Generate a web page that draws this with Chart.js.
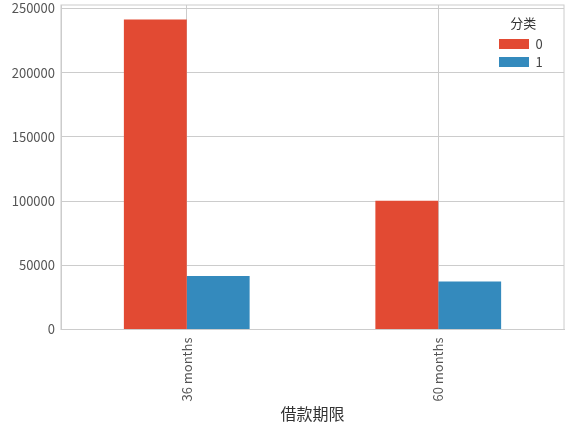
<!DOCTYPE html>
<html>
<head>
<meta charset="utf-8">
<script src="https://cdn.jsdelivr.net/npm/chart.js@4/dist/chart.umd.min.js"></script>
<style>
  html, body { margin: 0; padding: 0; background: #fff; }
  #wrap { width: 574px; height: 427px; }
</style>
</head>
<body>
<div id="wrap"><canvas id="loan-term"></canvas></div>
<script>
// 借款期限 x 分类 counts
const terms = [' 36 months', ' 60 months'];
const class0 = [241400, 100200];
const class1 = [41700, 37400];
const seriesNames = ['0', '1'];
const yTicks = [0, 50000, 100000, 150000, 200000, 250000];
const yMax = 252600;

const gridColor = '#cccccc';
const tickFont = { family: '"Noto Sans CJK SC", sans-serif', size: 13 };

// frame round the plot area (matplotlib style box)
const framePlugin = {
    id: 'frame',
    afterDatasetsDraw(chart) {
        const a = chart.chartArea;
        const ctx = chart.ctx;
        ctx.save();
        ctx.strokeStyle = gridColor;
        ctx.lineWidth = 1;
        ctx.strokeRect(a.left, a.top, a.right - a.left, a.bottom - a.top);
        ctx.restore();
    }
};

// move the chartArea legend over to the top right corner
const legendCorner = {
    id: 'legendCorner',
    afterLayout(chart) {
        const lg = chart.legend;
        if (!lg) return;
        const a = chart.chartArea;
        const w = lg.width;
        lg.left = a.right - 70;
        lg.right = lg.left + w;
        lg.top = a.top + 12;
        lg.bottom = lg.top + lg.height;
    }
};

const data = {
    labels: terms,
    datasets: [
        { label: seriesNames[0], data: class0, backgroundColor: '#E24A33' },
        { label: seriesNames[1], data: class1, backgroundColor: '#348ABD' }
    ]
};

const chartConfig = {
    type: 'bar',
    data: data,
    options: {
        responsive: true,
        maintainAspectRatio: false,
        animation: false,
        layout: { padding: { left: 0, top: 5, right: 10, bottom: 0 } },
        datasets: {
            bar: { categoryPercentage: 0.5, barPercentage: 1.0, borderWidth: 0 }
        },
        scales: {
            x: {
                grid: { color: gridColor, offset: false, drawTicks: false },
                border: { color: gridColor },
                ticks: {
                    font: tickFont, color: '#555',
                    minRotation: 90, maxRotation: 90, padding: 8
                },
                title: {
                    display: true, text: '借款期限', color: '#333',
                    font: { family: '"Noto Sans CJK SC", sans-serif', size: 16 },
                    padding: { top: 2, bottom: 3 }
                },
                afterFit(scale) { scale.height = 97.5; }
            },
            y: {
                min: 0,
                max: yMax,
                grid: { color: gridColor, drawTicks: false },
                border: { color: gridColor },
                ticks: {
                    font: tickFont, color: '#555', padding: 6,
                    callback: v => String(v)
                },
                afterBuildTicks(scale) { scale.ticks = yTicks.map(v => ({ value: v })); },
                afterFit(scale) {
                    scale.width = 61;
                    scale.paddingTop = 0;
                    scale.paddingBottom = 0;
                }
            }
        },
        plugins: {
            legend: {
                position: 'chartArea',
                align: 'start',
                title: {
                    display: true, text: '分类', color: '#333',
                    font: { family: '"Noto Sans CJK SC", sans-serif', size: 13 },
                    padding: 0
                },
                labels: {
                    boxWidth: 30, boxHeight: 10, padding: 5, color: '#444',
                    font: { family: '"Noto Sans CJK SC", sans-serif', size: 13 }
                }
            },
            tooltip: { enabled: false }
        }
    },
    plugins: [framePlugin, legendCorner]
};

const ctx = document.getElementById('loan-term').getContext('2d');
new Chart(ctx, chartConfig);
</script>
</body>
</html>
